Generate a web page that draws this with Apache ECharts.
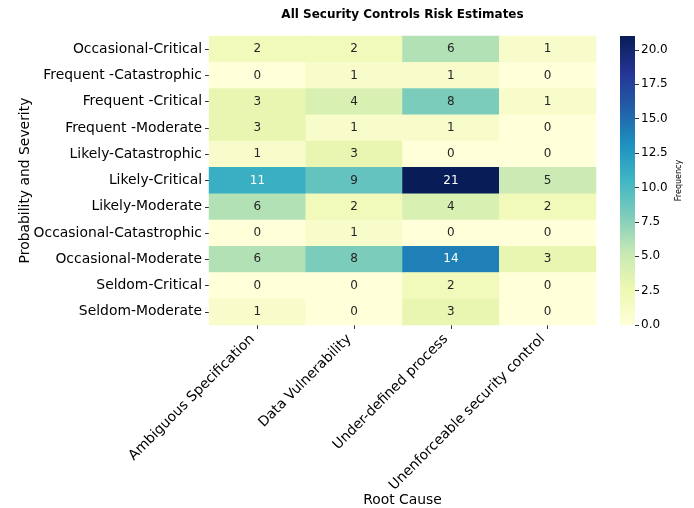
<!DOCTYPE html>
<html>
<head>
<meta charset="utf-8">
<script src="https://cdn.jsdelivr.net/npm/echarts@6/dist/echarts.min.js"></script>
<style>
html,body{margin:0;padding:0;background:#fff;}
#chart{width:694px;height:508px;}
</style>
</head>
<body>
<div id="chart"></div>
<script>
const rootCauses = ['Ambiguous Specification', 'Data Vulnerability', 'Under-defined process', 'Unenforceable security control'];
const riskLevels = ['Occasional-Critical', 'Frequent -Catastrophic', 'Frequent -Critical', 'Frequent -Moderate', 'Likely-Catastrophic', 'Likely-Critical', 'Likely-Moderate', 'Occasional-Catastrophic', 'Occasional-Moderate', 'Seldom-Critical', 'Seldom-Moderate'];
const ambiguousSpec = [2, 0, 3, 3, 1, 11, 6, 0, 6, 0, 1];
const dataVuln = [2, 1, 4, 1, 3, 9, 2, 1, 8, 0, 0];
const underDefined = [6, 1, 8, 1, 0, 21, 4, 0, 14, 2, 3];
const unenforceable = [1, 0, 1, 0, 0, 5, 2, 0, 3, 0, 0];
const colorbarTicks = [0, 2.5, 5, 7.5, 10, 12.5, 15, 17.5, 20];
const valueMin = 0;
const valueMax = 21;

const ylgnbu = ['#ffffd9', '#edf8b1', '#c7e9b4', '#7fcdbb', '#41b6c4', '#1d91c0', '#225ea8', '#253494', '#081d58'];
const columns = [ambiguousSpec, dataVuln, underDefined, unenforceable];
const font = 'DejaVu Sans, sans-serif';

const heatData = [];
columns.forEach((col, i) => {
  col.forEach((v, j) => {
    heatData.push({
      value: [i, j, v],
      label: { color: v > 10 ? '#ffffff' : '#262626' }
    });
  });
});

const chart = echarts.init(document.getElementById('chart'), null, { renderer: 'canvas' });
chart.setOption({
  animation: false,
  backgroundColor: '#ffffff',
  textStyle: { fontFamily: font },
  title: {
    text: 'All Security Controls Risk Estimates',
    left: 402.5,
    top: 9,
    padding: 0,
    textAlign: 'center',
    textStyle: { fontFamily: font, fontSize: 12, fontWeight: 'bold', color: '#000' }
  },
  grid: [
    { left: 209, top: 36, width: 387, height: 289, outerBoundsMode: 'none', containLabel: false },
    { left: 620, top: 36, width: 15, height: 289, outerBoundsMode: 'none', containLabel: false }
  ],
  xAxis: [
    {
      type: 'category', gridIndex: 0, data: rootCauses,
      axisLine: { show: false },
      axisTick: { show: true, alignWithLabel: true, length: 4, lineStyle: { color: '#333', width: 1 } },
      axisLabel: { rotate: 45, margin: 7, padding: [0, 7, 0, 0], fontSize: 13.9, color: '#000', fontFamily: font, interval: 0 },
      splitLine: { show: false },
      name: 'Root Cause', nameLocation: 'middle', nameGap: 168, nameMoveOverlap: false,
      nameTextStyle: { fontSize: 13.9, color: '#000', fontFamily: font }
    },
    {
      type: 'category', gridIndex: 1, data: ['cb'], show: false
    }
  ],
  yAxis: [
    {
      type: 'category', gridIndex: 0, data: riskLevels, inverse: true,
      axisLine: { show: false },
      axisTick: { show: true, alignWithLabel: true, length: 4, lineStyle: { color: '#333', width: 1 } },
      axisLabel: { margin: 7, fontSize: 13.9, color: '#000', fontFamily: font, interval: 0 },
      splitLine: { show: false },
      name: 'Probability and Severity', nameLocation: 'middle', nameGap: 177, nameMoveOverlap: false,
      nameTextStyle: { fontSize: 13.9, color: '#000', fontFamily: font }
    },
    {
      type: 'value', gridIndex: 1, position: 'right', min: valueMin, max: valueMax,
      axisLine: { show: false },
      axisTick: { show: true, length: 4, customValues: colorbarTicks, lineStyle: { color: '#333', width: 1 } },
      axisLabel: { margin: 6, fontSize: 12, color: '#000', fontFamily: font, customValues: colorbarTicks,
        formatter: v => Number(v).toFixed(1) },
      splitLine: { show: false },
      name: 'Frequency', nameLocation: 'middle', nameGap: 40, nameMoveOverlap: false,
      nameTextStyle: { fontSize: 8, color: '#000', fontFamily: font }
    }
  ],
  visualMap: {
    show: false, type: 'continuous', min: valueMin, max: valueMax, seriesIndex: 0,
    inRange: { color: ylgnbu }
  },
  series: [
    {
      type: 'heatmap', xAxisIndex: 0, yAxisIndex: 0, data: heatData,
      label: { show: true, fontSize: 12, fontFamily: font },
      itemStyle: { borderWidth: 0 },
      emphasis: { disabled: true }
    },
    {
      type: 'bar', xAxisIndex: 1, yAxisIndex: 1, data: [valueMax], barWidth: '100%',
      silent: true,
      itemStyle: {
        color: {
          type: 'linear', x: 0, y: 1, x2: 0, y2: 0,
          colorStops: ylgnbu.map((c, i) => ({ offset: i / (ylgnbu.length - 1), color: c }))
        }
      }
    }
  ]
});
</script>
</body>
</html>
